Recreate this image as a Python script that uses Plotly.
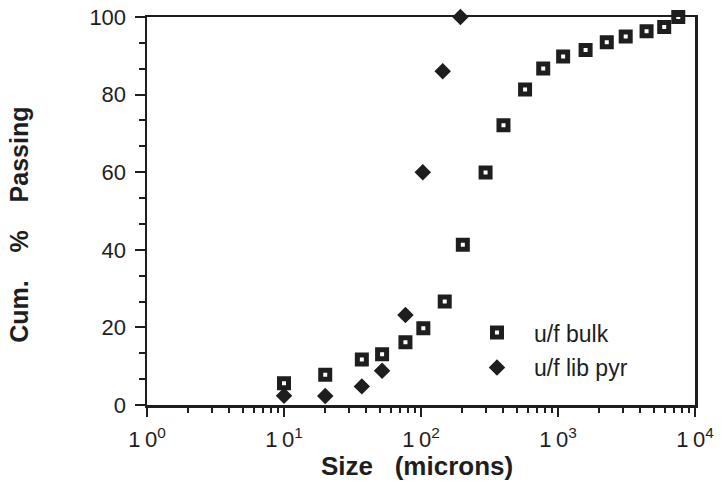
import plotly.graph_objects as go

# ---- data ----
bulk_size = [10, 20, 37, 52, 77, 104, 149, 202, 296, 400, 575, 780, 1090, 1590, 2270, 3120, 4430, 5960, 7550]
bulk_pass = [5.6, 7.8, 11.7, 13.1, 16.2, 19.8, 26.7, 41.3, 59.9, 72.1, 81.3, 86.7, 89.8, 91.5, 93.5, 95.0, 96.3, 97.4, 100]

pyr_size = [10, 20, 37, 52, 77, 103, 144, 194]
pyr_pass = [2.4, 2.3, 4.8, 8.8, 23.2, 60.0, 86.0, 100]

x_tickvals = [1, 10, 100, 1000, 10000]
x_ticktext = ["1\u20090<sup>0</sup>", "1\u20090<sup>1</sup>", "1\u20090<sup>2</sup>",
              "1\u20090<sup>3</sup>", "1\u20090<sup>4</sup>"]
y_tickvals = [0, 20, 40, 60, 80, 100]

series_names = ["u/f bulk", "u/f lib pyr"]
x_title = "Size\u00a0\u00a0\u00a0(microns)"
y_title = "Cum.\u00a0\u00a0\u00a0\u00a0%\u00a0\u00a0\u00a0\u00a0Passing"

INK = "#1e1e1e"
FONT = "Liberation Sans, Arial, Helvetica, sans-serif"

# the page body margin is removed below, so figure pixels == window pixels
W, H = 721, 493
PL, PR, PT, PB = 147, 695, 17, 405.5          # plot box in window pixels
L, R, T, B = PL, W - PR, PT, H - PB

fig = go.Figure()
fig.add_trace(go.Scatter(
    x=bulk_size, y=bulk_pass, mode="markers", name=series_names[0],
    legendgroup="a",
    marker=dict(symbol="square-open", size=9, color=INK, line=dict(width=5, color=INK)),
    cliponaxis=False,
))
fig.add_trace(go.Scatter(
    x=pyr_size, y=pyr_pass, mode="markers", name=series_names[1],
    legendgroup="b",
    marker=dict(symbol="diamond", size=10.5, color=INK, line=dict(width=2, color=INK)),
    cliponaxis=False,
))

pw = PR - PL
ph = PB - PT

def px_x(p):
    return (p - PL) / pw

def px_y(p):
    return (PB - p) / ph

fig.update_layout(
    width=W, height=H,
    margin=dict(l=L, r=R, t=T, b=B, pad=0, autoexpand=False),
    paper_bgcolor="white", plot_bgcolor="white",
    font=dict(family=FONT, color=INK, size=22),
    showlegend=True,
    hovermode=False,
    legend=dict(
        x=px_x(460), y=px_y(311.5), xanchor="left", yanchor="top",
        bgcolor="rgba(0,0,0,0)", borderwidth=0,
        itemwidth=64, tracegroupgap=2,
        font=dict(family=FONT, size=23, color=INK),
    ),
    xaxis=dict(
        type="log", range=[0, 4], automargin=False,
        showline=True, linewidth=2.5, linecolor=INK, mirror=True,
        showgrid=False, zeroline=False,
        ticks="outside", ticklen=9, tickwidth=2, tickcolor=INK,
        tickmode="array", tickvals=x_tickvals, ticktext=x_ticktext,
        tickfont=dict(family=FONT, size=22, color=INK),
        ticklabelstandoff=4, ticklabeloverflow="allow",
        minor=dict(ticks="outside", ticklen=5, tickwidth=2, tickcolor=INK, dtick="D1", showgrid=False),
    ),
    yaxis=dict(
        range=[0, 100], automargin=False,
        showline=True, linewidth=2.5, linecolor=INK, mirror=True,
        showgrid=False, zeroline=False,
        ticks="outside", ticklen=10, tickwidth=2, tickcolor=INK,
        tickmode="array", tickvals=y_tickvals,
        tickfont=dict(family=FONT, size=22, color=INK),
        ticklabelstandoff=4, ticklabeloverflow="allow",
        minor=dict(ticks="outside", ticklen=6, tickwidth=2, tickcolor=INK, tick0=0, dtick=20 / 3, showgrid=False),
    ),
    annotations=[
        dict(text="<b>" + x_title + "</b>", xref="paper", yref="paper",
             x=px_x(416.5), y=px_y(467), xanchor="center", yanchor="middle",
             showarrow=False, font=dict(family=FONT, size=26, color=INK)),
        dict(text="<b>" + y_title + "</b>", xref="paper", yref="paper",
             x=px_x(19), y=px_y(225), xanchor="center", yanchor="middle",
             textangle=-90, showarrow=False, font=dict(family=FONT, size=25, color=INK)),
    ],
)

fig.write_html(
    "out.html",
    config={"displayModeBar": False, "staticPlot": True},
    post_script="document.body.style.margin='0px';document.body.style.padding='0px';",
)
